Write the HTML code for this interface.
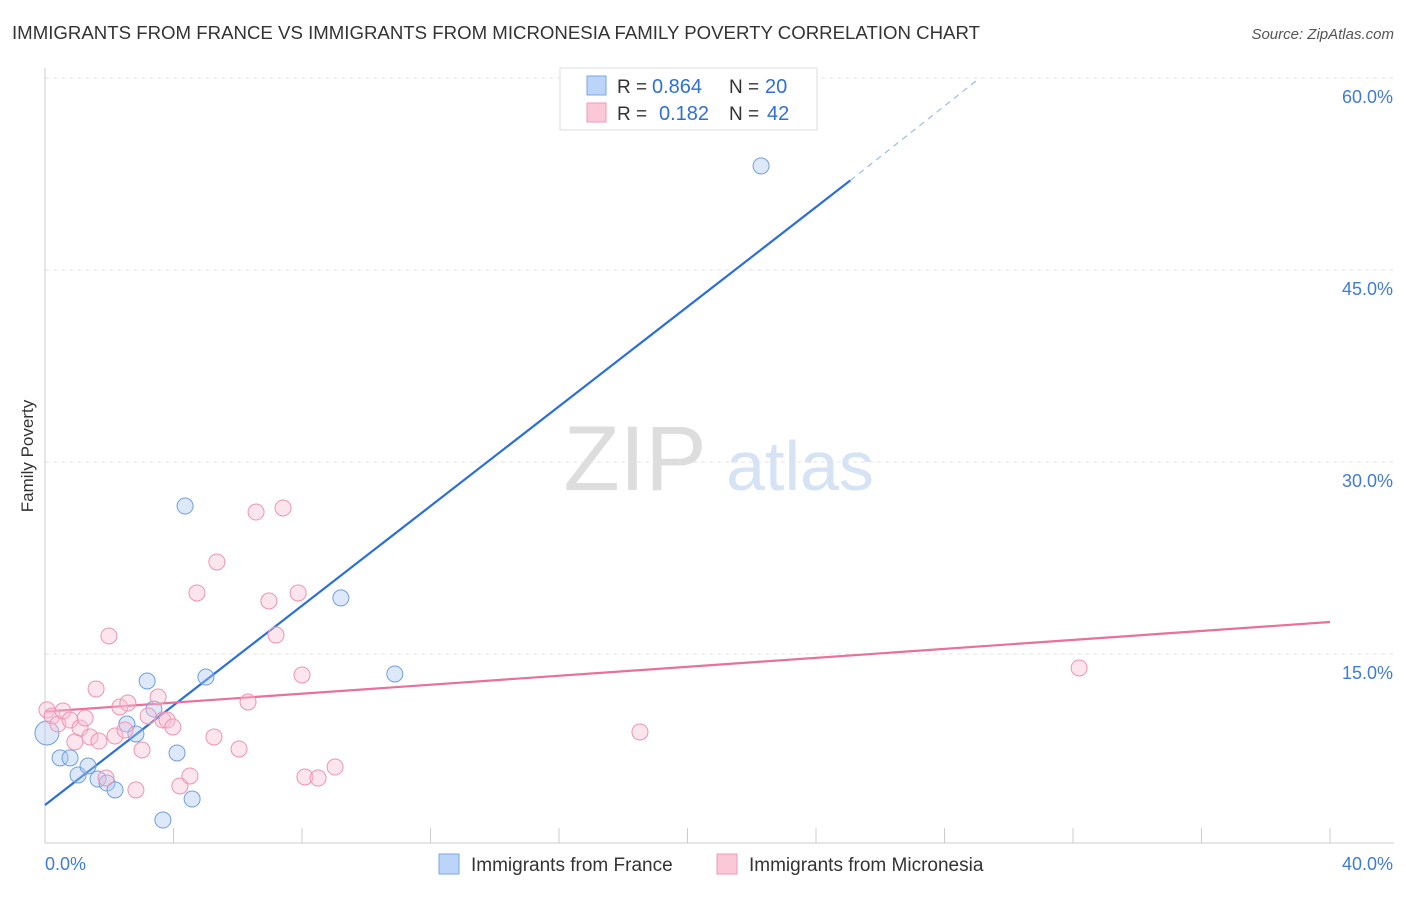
<!DOCTYPE html>
<html><head><meta charset="utf-8">
<style>
body{margin:0;background:#fff;font-family:"Liberation Sans",sans-serif;}
svg text{font-family:"Liberation Sans",sans-serif;}
</style></head>
<body>
<svg id="chart" width="1406" height="892" xmlns="http://www.w3.org/2000/svg">
<text x="12" y="39" font-size="18" fill="#333" textLength="968" lengthAdjust="spacingAndGlyphs">IMMIGRANTS FROM FRANCE VS IMMIGRANTS FROM MICRONESIA FAMILY POVERTY CORRELATION CHART</text>
<text x="1394" y="39" font-size="15" fill="#555" text-anchor="end" font-style="italic">Source: ZipAtlas.com</text>
<text transform="translate(33,456) rotate(-90)" font-size="17" fill="#333" text-anchor="middle">Family Poverty</text>
<g>
<text x="635" y="490" font-size="92" fill="#ddd" text-anchor="middle" font-family="Liberation Serif">ZIP</text>
<text x="800" y="490" font-size="70" fill="#d5e3f5" text-anchor="middle">atlas</text>
</g>
<g id="grid"></g><g id="axes"></g><g id="lines"></g><g id="pts"></g>
<g>
<rect x="560" y="68" width="257" height="62" fill="#fff" stroke="#ddd"/>
<rect x="587" y="76" width="19" height="19" fill="#bcd4f7" stroke="#7aa6e8"/>
<rect x="587" y="103" width="19" height="19" fill="#fbc8d8" stroke="#f09ab5"/>
<text x="617" y="93" font-size="19" fill="#333">R =</text>
<text x="652" y="93" font-size="20" fill="#2f6fd6">0.864</text>
<text x="729" y="93" font-size="19" fill="#333">N =</text>
<text x="765" y="93" font-size="20" fill="#2f6fd6">20</text>
<text x="617" y="120" font-size="19" fill="#333">R =</text>
<text x="659" y="120" font-size="20" fill="#2f6fd6">0.182</text>
<text x="729" y="120" font-size="19" fill="#333">N =</text>
<text x="767" y="120" font-size="20" fill="#2f6fd6">42</text>
</g>
<g>
<rect x="439" y="854" width="20" height="20" fill="#bcd4f7" stroke="#7aa6e8"/>
<text x="471" y="871" font-size="19" fill="#333">Immigrants from France</text>
<rect x="717" y="854" width="20" height="20" fill="#fbc8d8" stroke="#f09ab5"/>
<text x="749" y="871" font-size="19" fill="#333">Immigrants from Micronesia</text>
</g>
</svg>
<script>
const franceX=[0.06,0.47,0.78,1.03,1.34,1.65,1.93,2.18,2.55,2.83,3.18,3.39,4.11,4.36,4.58,3.67,5.01,9.21,10.89,22.29];
const franceY=[8.83,6.88,6.88,5.55,6.25,5.23,4.92,4.38,9.53,8.75,12.89,10.70,7.27,26.56,3.67,2.03,13.20,19.38,13.44,53.13];
const microX=[0.06,0.22,0.40,0.56,0.78,0.93,1.09,1.25,1.40,1.59,1.68,1.90,1.99,2.18,2.33,2.58,2.49,2.83,3.02,3.21,3.52,3.67,3.80,3.98,4.20,4.51,4.73,5.26,5.35,6.04,6.32,6.57,6.97,7.19,7.41,7.88,8.00,8.09,8.50,9.03,18.52,32.19];
const microY=[10.63,10.16,9.53,10.55,9.84,8.13,9.22,10.0,8.52,12.27,8.20,5.31,16.41,8.59,10.86,11.17,9.06,4.38,7.50,10.16,11.64,9.84,9.84,9.30,4.69,5.47,19.77,8.52,22.19,7.58,11.25,26.09,19.14,16.48,26.41,19.77,13.36,5.39,5.31,6.17,8.91,13.91];
const yTicks=[15,30,45,60];
const xTickVals=[0,4,8,12,16,20,24,28,32,36,40];
const franceTrend=[[0,3.2],[25.07,52.0],[29.1,60.0]];
const microTrend=[[0,10.5],[40,17.5]];
const NS="http://www.w3.org/2000/svg";
const X=v=>45+v*32.125, Y=v=>846-v*12.8;
function mk(p,t,a){const e=document.createElementNS(NS,t);for(const k in a)e.setAttribute(k,a[k]);document.getElementById(p).appendChild(e);return e;}
yTicks.forEach(t=>{
 const g=mk('grid','line',{x1:45,x2:1394,y1:Y(t),y2:Y(t),stroke:'#e3e3e3','stroke-dasharray':'4,4'});
 
 
 const l=mk('axes','text',{x:1393,y:Y(t)+25,'font-size':18,fill:'#3f7bd8','text-anchor':'end'});
 l.textContent=t.toFixed(1)+'%';
 
 
});
const ax=mk('axes','line',{x1:45,x2:45,y1:68,y2:843,stroke:'#ccc'});


const bx=mk('axes','line',{x1:45,x2:1394,y1:843,y2:843,stroke:'#ccc'});


xTickVals.forEach(t=>{
 const k=mk('axes','line',{x1:X(t),x2:X(t),y1:828,y2:843,stroke:'#ccc'});
 
 
});
[[0,'start',45],[40,'end',1393]].forEach(([v,a,x])=>{
 const l=mk('axes','text',{x:x,y:870,'font-size':18,fill:'#3f7bd8','text-anchor':a});
 l.textContent=v.toFixed(1)+'%';
 
 
});
function pts(xs,ys,fill,stroke,name){
 xs.forEach((x,i)=>{
  const c=mk('pts','circle',{cx:X(x),cy:Y(ys[i]),r:(name==='france-point'&&i===0)?12:8,fill:fill,stroke:stroke,'stroke-width':1,'fill-opacity':0.4});
  
  
 });
}
pts(franceX,franceY,'#a9c8f3','#6f9fe0','france-point');
pts(microX,microY,'#f9bfd1','#ee94b1','micronesia-point');
const f1=mk('lines','line',{x1:X(franceTrend[0][0]),y1:Y(franceTrend[0][1]),x2:X(franceTrend[1][0]),y2:Y(franceTrend[1][1]),stroke:'#2b6fd8','stroke-width':2.2});


const f2=mk('lines','line',{x1:X(franceTrend[1][0]),y1:Y(franceTrend[1][1]),x2:X(franceTrend[2][0]),y2:Y(franceTrend[2][1]),stroke:'#9bbbe8','stroke-width':1.2,'stroke-dasharray':'6,5'});


const m1=mk('lines','line',{x1:X(microTrend[0][0]),y1:Y(microTrend[0][1]),x2:X(microTrend[1][0]),y2:Y(microTrend[1][1]),stroke:'#e8709a','stroke-width':2.2});


</script>
</body></html>
